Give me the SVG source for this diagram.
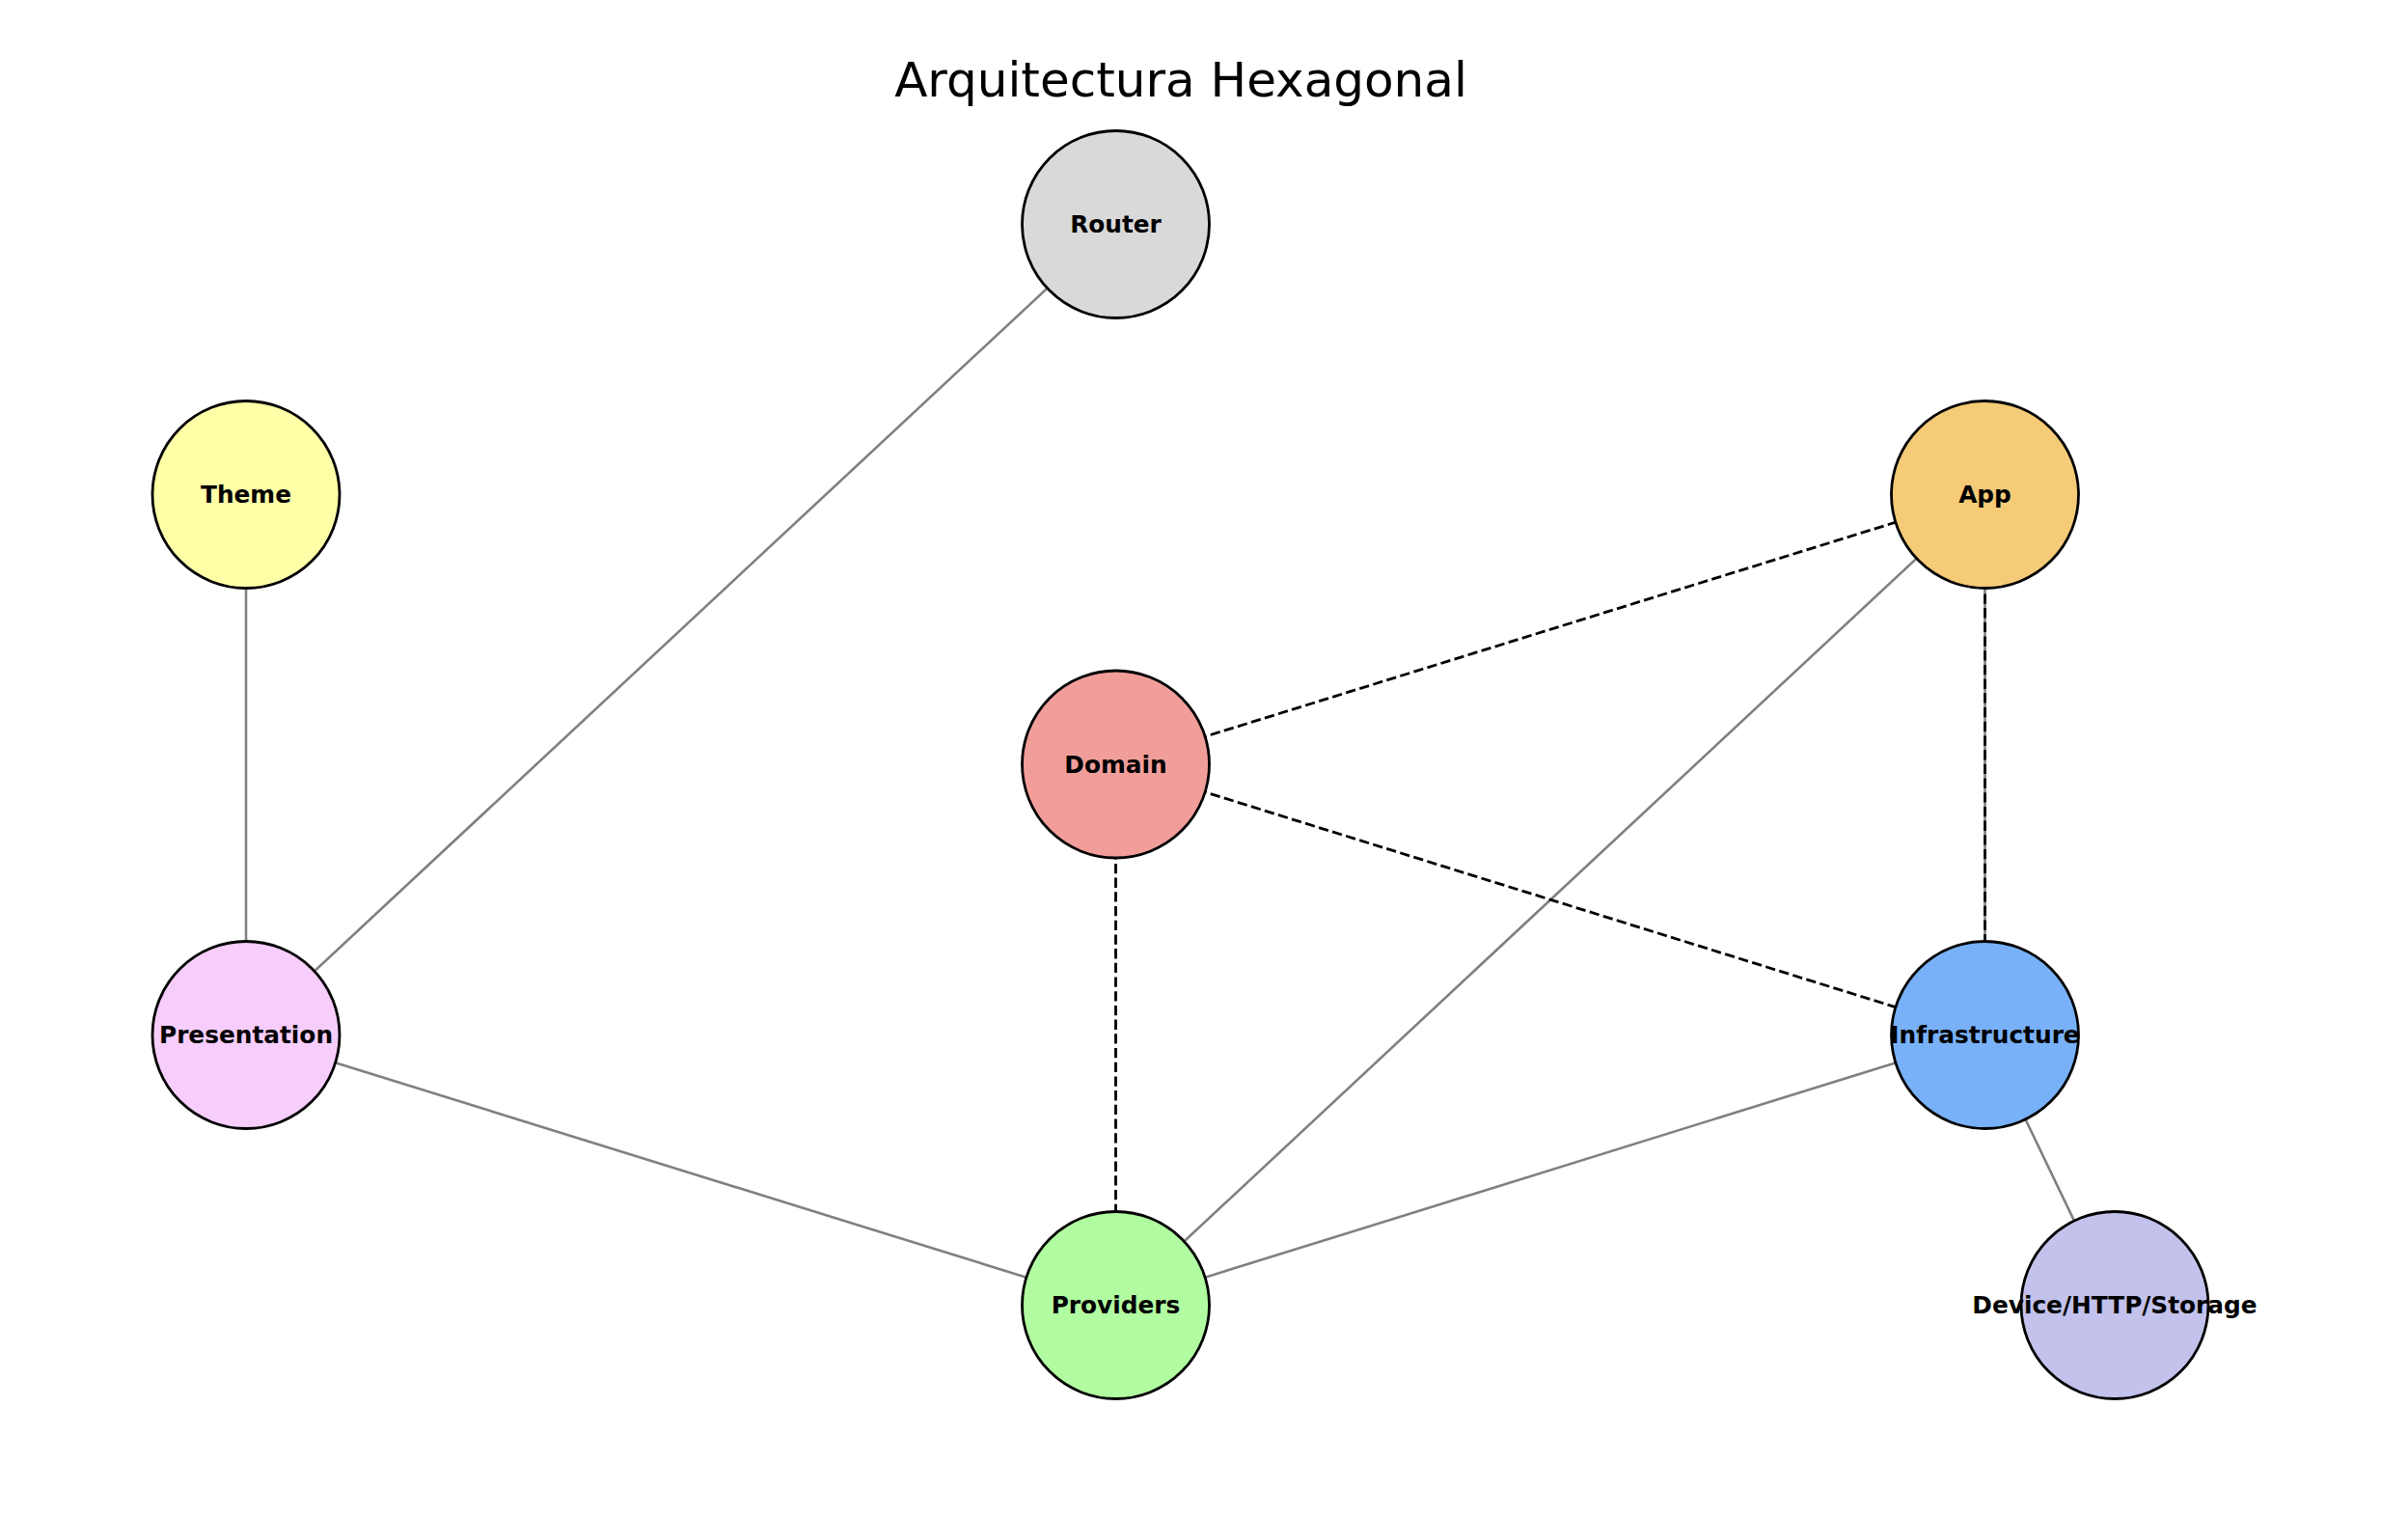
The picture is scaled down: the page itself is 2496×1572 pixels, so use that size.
<svg xmlns="http://www.w3.org/2000/svg" width="2496" height="1572" viewBox="0 0 2496 1572">
<style>
.bg{fill:#ffffff}
.solid{stroke:#808080;stroke-width:2.6;fill:none}
.dash{stroke:#000000;stroke-width:2.8;fill:none;stroke-dasharray:10.3,4.4}
.node{stroke:#000000;stroke-width:2.8}
.lbl{font-family:"DejaVu Sans",sans-serif;font-weight:bold;font-size:24.8px;text-anchor:middle;fill:#000000}
.title{font-family:"DejaVu Sans",sans-serif;font-size:50px;text-anchor:middle;fill:#000000}
</style>
<rect class="bg" x="0" y="0" width="2496" height="1572"/>
<text class="title" x="1224" y="100">Arquitectura Hexagonal</text>
<g id="connectors">
<line class="solid" x1="1156.5" y1="232.5" x2="255" y2="1072.5"/>
<line class="solid" x1="255" y1="512.5" x2="255" y2="1072.5"/>
<line class="solid" x1="255" y1="1072.5" x2="1156.5" y2="1352.5"/>
<line class="solid" x1="1156.5" y1="1352.5" x2="2057.5" y2="512.5"/>
<line class="solid" x1="1156.5" y1="1352.5" x2="2057.5" y2="1072.5"/>
<line class="solid" x1="2057.5" y1="1072.5" x2="2192" y2="1352.5"/>
<line class="solid" x1="2057.5" y1="512.5" x2="2057.5" y2="1072.5"/>
<line class="dash" x1="1156.5" y1="792" x2="2057.5" y2="512.5"/>
<line class="dash" x1="1156.5" y1="792" x2="2057.5" y2="1072.5"/>
<line class="dash" x1="1156.5" y1="792" x2="1156.5" y2="1352.5"/>
<line class="dash" x1="2057.5" y1="512.5" x2="2057.5" y2="1072.5"/>
</g>
<g id="router"><circle class="node" cx="1156.5" cy="232.5" r="97" fill="#d9d9d9"/><text class="lbl" x="1156.5" y="241">Router</text></g>
<g id="theme"><circle class="node" cx="255" cy="512.5" r="97" fill="#ffffa8"/><text class="lbl" x="255" y="521">Theme</text></g>
<g id="app"><circle class="node" cx="2057.5" cy="512.5" r="97" fill="#f5cb78"/><text class="lbl" x="2057.5" y="521">App</text></g>
<g id="domain"><circle class="node" cx="1156.5" cy="792" r="97" fill="#f19e9a"/><text class="lbl" x="1156.5" y="800.5">Domain</text></g>
<g id="presentation"><circle class="node" cx="255" cy="1072.5" r="97" fill="#f7cdfb"/><text class="lbl" x="255" y="1081">Presentation</text></g>
<g id="infrastructure"><circle class="node" cx="2057.5" cy="1072.5" r="97" fill="#78b1f7"/><text class="lbl" x="2057.5" y="1081">Infrastructure</text></g>
<g id="providers"><circle class="node" cx="1156.5" cy="1352.5" r="97" fill="#b1fca1"/><text class="lbl" x="1156.5" y="1361">Providers</text></g>
<g id="device"><circle class="node" cx="2192" cy="1352.5" r="97" fill="#c2c2ec"/><text class="lbl" x="2192" y="1361">Device/HTTP/Storage</text></g>
</svg>
